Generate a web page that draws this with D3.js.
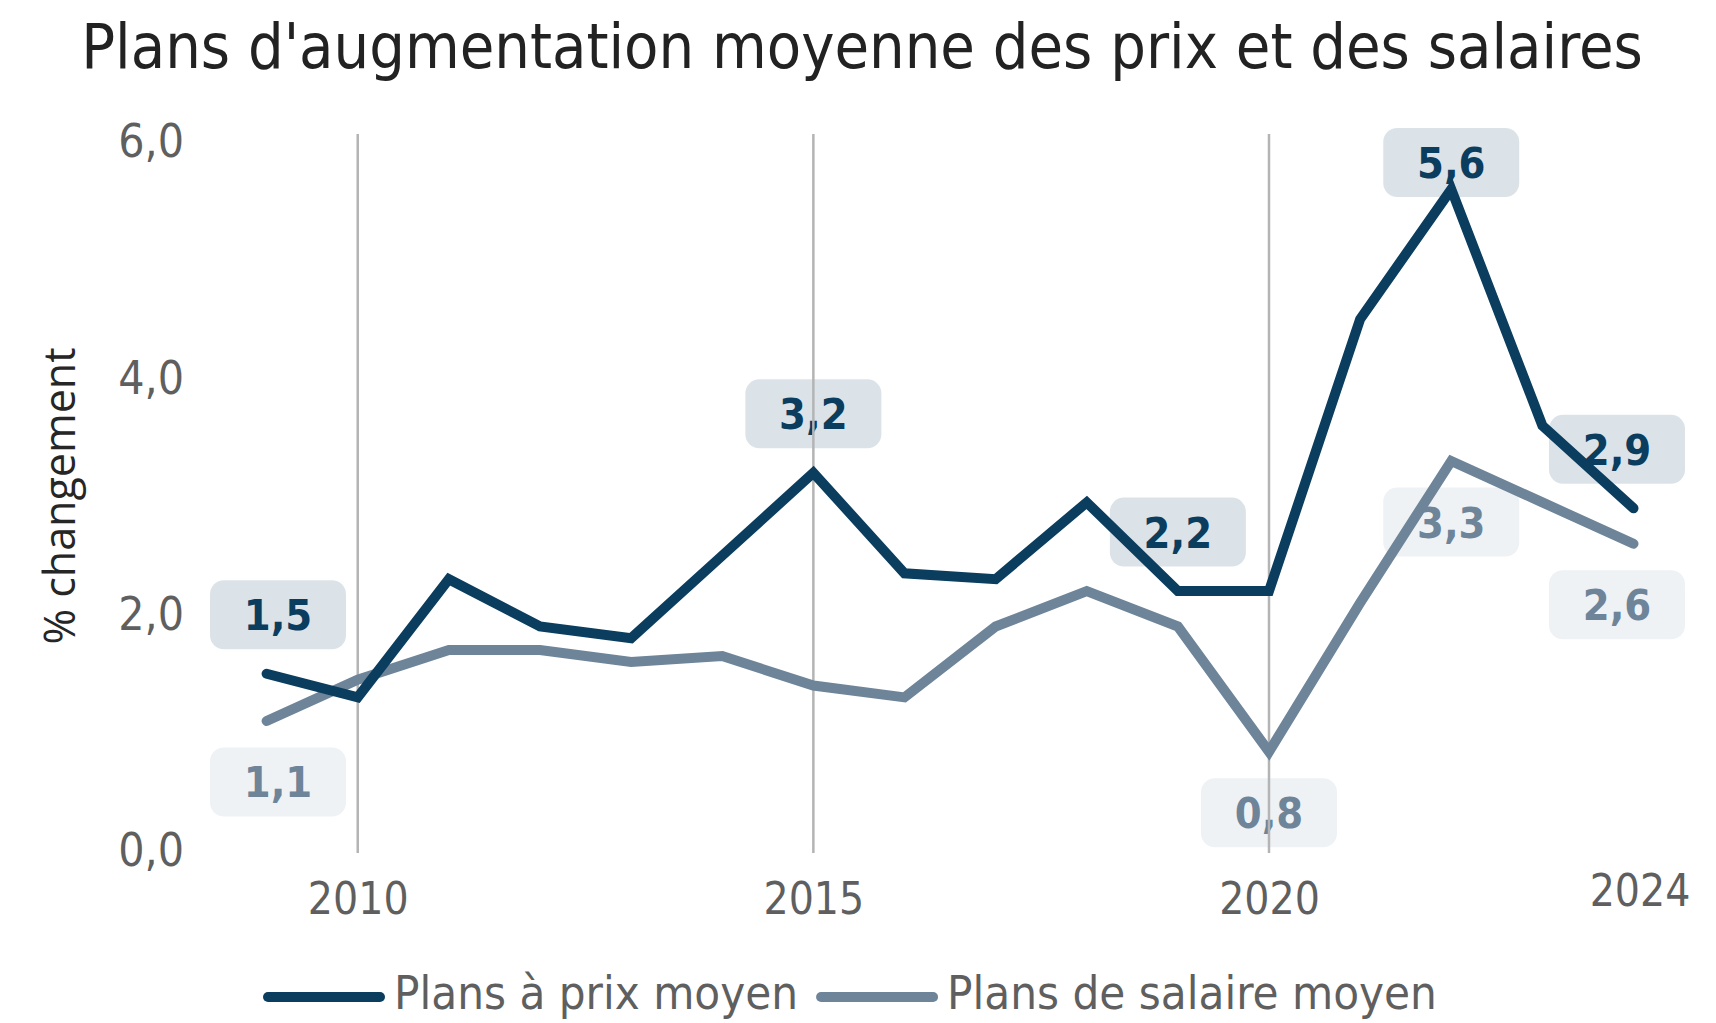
<!DOCTYPE html>
<html>
<head>
<meta charset="utf-8">
<script src="https://cdn.jsdelivr.net/npm/d3@7"></script>
<style>
    body { margin: 0; background: #fff; }
    svg text { font-family: "DejaVu Sans Condensed", "DejaVu Sans", sans-serif; font-stretch: condensed; }
</style>
</head>
<body>
<svg id="chart" width="1716" height="1023"></svg>
<script>
// data
var years = [2009, 2010, 2011, 2012, 2013, 2014, 2015, 2016, 2017, 2018, 2019, 2020, 2021, 2022, 2023, 2024];
var prixMoyen = [1.5, 1.3, 2.3, 1.9, 1.8, 2.5, 3.2, 2.35, 2.3, 2.95, 2.2, 2.2, 4.5, 5.6, 3.6, 2.9];
var salaireMoyen = [1.1, 1.45, 1.7, 1.7, 1.6, 1.65, 1.4, 1.3, 1.9, 2.2, 1.9, 0.84, 2.1, 3.3, 2.95, 2.6];
var seriesNames = ["Plans à prix moyen", "Plans de salaire moyen"];
var yTicks = [0, 2, 4, 6];
var xTicks = [2010, 2015, 2020, 2024];
var gridYears = [2010, 2015, 2020];
// years that get a value label
var prixLabelYears = [2009, 2015, 2019, 2022, 2024];
var salaireLabelYears = [2009, 2020, 2022, 2024];

var darkBlue = "#0a3d5e", slate = "#6e8499";

var svg = d3.select("#chart");

var x = d3.scaleLinear().domain([2009, 2024]).range([266.6, 1633.5]);
var y = d3.scaleLinear().domain([0, 6]).range([851, 142]);

var fmt = function (v) { return d3.format(".1f")(v).replace(".", ","); };

// title
svg.append("text")
    .attr("x", 862)
    .attr("y", 68)
    .attr("text-anchor", "middle")
    .attr("font-size", 62.5)
    .attr("fill", "#222")
    .text("Plans d'augmentation moyenne des prix et des salaires");

// y axis
var yAxisGroup = svg.append("g")
    .attr("transform", "translate(194,0)")
    .call(d3.axisLeft(y).tickValues(yTicks).tickFormat(fmt).tickSize(0).tickPadding(10));
yAxisGroup.select(".domain").remove();
yAxisGroup.selectAll("text")
    .attr("font-size", 46)
    .attr("font-family", null)
    .attr("fill", "#5f5f5f");

svg.append("text")
    .attr("transform", "translate(60,496) rotate(-90)")
    .attr("text-anchor", "middle")
    .attr("dy", "0.35em")
    .attr("font-size", 43)
    .style("font-family", "'Open Sans', 'Noto Sans', sans-serif")
    .style("font-stretch", "normal")
    .attr("fill", "#262626")
    .text("% changement");

// x axis
var xAxisGroup = svg.append("g")
    .attr("transform", "translate(0," + y(0) + ")")
    .call(d3.axisBottom(x).tickValues(xTicks).tickFormat(d3.format("d")).tickSize(0).tickPadding(32));
xAxisGroup.select(".domain").remove();
xAxisGroup.selectAll("text")
    .attr("font-size", 44)
    .attr("font-family", null)
    .attr("fill", "#5f5f5f");
xAxisGroup.selectAll(".tick")
    .filter(function (d) { return d === 2024; })
    .select("text")
    .attr("dx", 6)
    .attr("y", 24);

// value labels (drawn first so grid and lines sit on top)
var boxW = 136, boxH = 69;
function labelData(labelYears, values, above, boxFill, textFill) {
    return labelYears.map(function (yr) {
        var v = values[years.indexOf(yr)];
        var px = x(yr), py = y(v);
        var cx = Math.max(210 + boxW / 2, Math.min(1685 - boxW / 2, px));
        var cy = above ? py - 59 : py + 61;
        if (above && cy - boxH / 2 < 128) cy = 128 + boxH / 2;
        return {cx: cx, cy: cy, text: fmt(v), boxFill: boxFill, textFill: textFill};
    });
}
var labels = labelData(prixLabelYears, prixMoyen, true, "#dce3e8", darkBlue)
    .concat(labelData(salaireLabelYears, salaireMoyen, false, "#eef2f5", slate));

var labelGroups = svg.append("g").selectAll(".val-label")
    .data(labels)
    .enter().append("g")
    .attr("class", "val-label");

labelGroups.append("rect")
    .attr("x", function (d) { return d.cx - boxW / 2; })
    .attr("y", function (d) { return d.cy - boxH / 2; })
    .attr("width", boxW)
    .attr("height", boxH)
    .attr("rx", 14)
    .attr("fill", function (d) { return d.boxFill; });

labelGroups.append("text")
    .attr("x", function (d) { return d.cx; })
    .attr("y", function (d) { return d.cy; })
    .attr("dy", "0.36em")
    .attr("text-anchor", "middle")
    .attr("font-size", 43)
    .attr("font-weight", "bold")
    .attr("fill", function (d) { return d.textFill; })
    .text(function (d) { return d.text; });

// vertical grid lines
svg.append("g").selectAll("line")
    .data(gridYears)
    .enter().append("line")
    .attr("x1", function (d) { return x(d); })
    .attr("x2", function (d) { return x(d); })
    .attr("y1", y(6) - 8)
    .attr("y2", y(0) + 2)
    .attr("stroke", "#b4b4b4")
    .attr("stroke-width", 2.5);

// lines
var line = d3.line()
    .x(function (d) { return x(d.year); })
    .y(function (d) { return y(d.value); });

var series = [
    {name: seriesNames[0], color: darkBlue, values: prixMoyen},
    {name: seriesNames[1], color: slate, values: salaireMoyen}
];

// wage line underneath the price line
svg.append("g").selectAll("path")
    .data(series.slice().reverse())
    .enter().append("path")
    .attr("fill", "none")
    .attr("stroke", function (d) { return d.color; })
    .attr("stroke-width", 10)
    .attr("stroke-linecap", "round")
    .attr("d", function (d) {
        return line(d.values.map(function (v, i) { return {year: years[i], value: v}; }));
    });

// legend
var legend = svg.append("g").attr("class", "legend");
var lx = 263, legendY = 997;
series.forEach(function (s, i) {
    legend.append("line")
        .attr("x1", lx + 5)
        .attr("x2", lx + 122 - 5)
        .attr("y1", legendY)
        .attr("y2", legendY)
        .attr("stroke", s.color)
        .attr("stroke-width", 10)
        .attr("stroke-linecap", "round");
    var t = legend.append("text")
        .attr("x", lx + 131)
        .attr("y", legendY - 5)
        .attr("dy", "0.36em")
        .attr("font-size", 47)
        .attr("fill", "#5f5f5f")
        .text(s.name);
    lx = lx + 131 + t.node().getComputedTextLength() + 18;
});
</script>
</body>
</html>
